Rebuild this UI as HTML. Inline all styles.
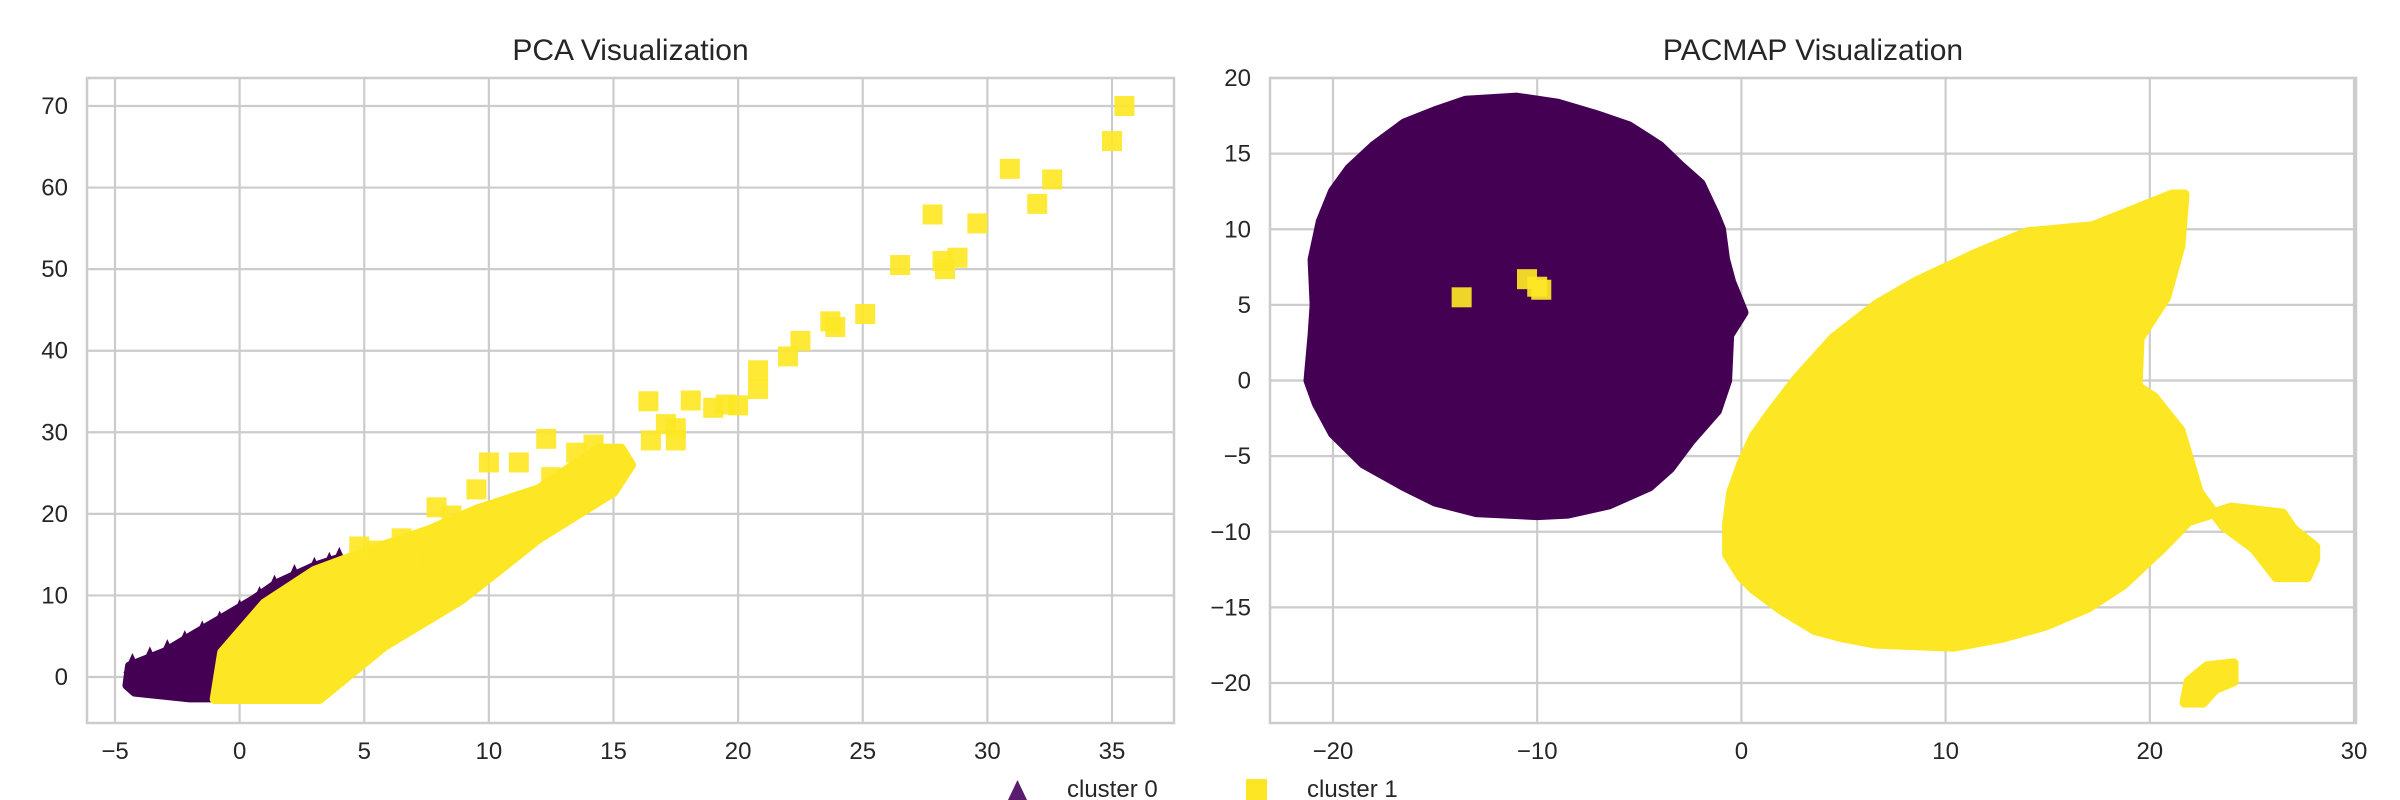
<!DOCTYPE html>
<html><head><meta charset="utf-8">
<style>
html,body{margin:0;padding:0;background:#fff;}
svg{display:block;font-family:"Liberation Sans",sans-serif;}
</style></head>
<body>
<svg id="fig" width="2400" height="800" viewBox="0 0 2400 800" xmlns="http://www.w3.org/2000/svg"></svg>
<script>
// ---------- data ----------
const pcaXTicks = [-5,0,5,10,15,20,25,30,35];
const pcaYTicks = [0,10,20,30,40,50,60,70];
const pacXTicks = [-20,-10,0,10,20,30];
const pacYTicks = [-20,-15,-10,-5,0,5,10,15,20];

// PCA cluster 0 dense region boundary (data coords)
const pcaC0Region = [[-4.5,-1],[-4.4,1.3],[-3,3],[-1.9,5],[-0.5,7.5],[0.6,9.5],[1.5,11.4],[3,13.5],[4,14.5],[4.5,13],[1,3],[0,-2.5],[-2,-2.5],[-4.2,-1.8]];
// PCA cluster 1 dense region boundary
const pcaC1Region = [[-1,-2.7],[3.2,-2.7],[5.8,3.8],[8.9,9.5],[12,17],[15,22.7],[15.7,26],[15.3,28],[14.4,28],[12,23],[9.5,20.5],[7.6,18],[5.2,15.5],[3,13],[1,9],[-0.7,3]];
// PCA cluster 1 outliers x,y
const pcaC1X = [35.5,35.0,30.9,32.6,32.0,27.8,29.6,28.8,28.2,28.3,26.5,25.1,23.7,23.9,22.5,22.0,20.8,20.8,16.4,18.1,19.0,19.5,20.0,17.1,17.5,17.5,16.5,12.3,10.0,11.2,13.5,14.2,15.0,15.1,7.9,8.5,9.5,6.5,5.5,12.5,4.8,7.5];
const pcaC1Y = [70.0,65.7,62.3,61.0,58.0,56.7,55.6,51.4,51.0,50.0,50.5,44.5,43.6,42.9,41.2,39.3,37.6,35.3,33.8,33.9,33.0,33.4,33.3,31.0,30.5,29.0,29.0,29.2,26.3,26.3,27.5,28.5,27.0,26.0,20.8,19.8,23.0,17.0,15.5,24.5,16.0,14.5];
// PCA cluster 0 edge triangles
const pcaC0X = [-4.3,-3.6,-2.9,-2.2,-1.5,-0.8,0.0,0.8,1.4,2.2,3.0,3.6,4.0];
const pcaC0Y = [1.6,2.4,3.3,4.4,5.6,6.8,8.2,9.8,11.2,12.5,13.4,14.0,14.6];

// PaCMAP cluster 0 region
const pacC0Region = [[-11,18.7],[-9,18.3],[-7,17.5],[-5.5,16.8],[-4,15.5],[-3,14.2],[-2,13],[-1.3,11],[-1,10],[-0.8,8],[-0.5,6.5],[0.1,4.5],[-0.6,3],[-0.7,0],[-1.2,-2],[-2.5,-4],[-3.5,-5.8],[-4.5,-7],[-6.5,-8.2],[-8.5,-8.8],[-10,-8.9],[-13,-8.7],[-15,-8],[-16.5,-7],[-18.5,-5.5],[-20,-3.5],[-20.8,-1.5],[-21.2,0],[-21,3],[-20.9,5],[-21,8],[-20.6,10.5],[-20,12.5],[-19.2,14],[-18,15.5],[-16.5,17],[-15,17.8],[-13.5,18.5]];
// PaCMAP cluster 1 main region
const pacC1Region = [[21.1,12.3],[17.2,10.2],[14,9.8],[11.5,8.4],[8.5,6.5],[6.6,5],[4.5,2.8],[2.7,0.1],[1.5,-2],[0.6,-3.7],[0,-5.5],[-0.5,-7.4],[-0.7,-9.5],[-0.7,-11.5],[0,-13],[0.6,-13.8],[2,-15.2],[3.6,-16.5],[5,-17],[6.6,-17.4],[10.4,-17.6],[12.8,-17],[14.9,-16.2],[17,-15],[18.7,-13.5],[20.6,-11.1],[21.9,-9.3],[24,-8.4],[26.5,-8.8],[27,-9.8],[28.1,-11],[28.1,-11.8],[27.7,-13],[26.2,-13],[25.1,-11.1],[23.6,-9.6],[22.4,-7.4],[21.5,-3.3],[20.2,-1.1],[19.4,-0.4],[19.5,2.8],[20.8,5.5],[21.5,8.9],[21.7,12.3]];
const pacC1Arc = [[21.7,-21.3],[21.9,-19.9],[22.8,-18.9],[24.1,-18.7],[24.1,-19.9],[23.2,-20.4],[22.6,-21.3]];
const pacC1X = [-13.7,-10.5,-10.0,-9.8];
const pacC1Y = [5.5,6.7,6.2,6.0];

// ---------- drawing ----------
const NS = "http://www.w3.org/2000/svg";
const svg = document.getElementById('fig');
const C0 = '#440154', C1 = '#fde725';
function mk(tag, attrs, parent){const e=document.createElementNS(NS,tag);for(const k in attrs)e.setAttribute(k,attrs[k]);(parent||svg).appendChild(e);return e;}
function lin(d0,d1,p0,p1){return v=>p0+(v-d0)*(p1-p0)/(d1-d0);}

function panel(cfg){
  const g = mk('g',{});
  
  
  const sx=cfg.sx, sy=cfg.sy;
  cfg.xt.forEach(t=>{
    const l=mk('line',{x1:sx(t),x2:sx(t),y1:cfg.top,y2:cfg.bot,stroke:'#cccccc','stroke-width':2.2},g);
    
    
    const tx=mk('text',{x:sx(t),y:cfg.bot+36,'text-anchor':'middle','font-size':24,fill:'#262626'},g);
    tx.textContent=(t<0?'\u2212'+(-t):t);
    
    
  });
  cfg.yt.forEach(t=>{
    const l=mk('line',{x1:cfg.left,x2:cfg.right,y1:sy(t),y2:sy(t),stroke:'#cccccc','stroke-width':2.2},g);
    
    
    const tx=mk('text',{x:cfg.left-19,y:sy(t)+8,'text-anchor':'end','font-size':24,fill:'#262626'},g);
    tx.textContent=(t<0?'\u2212'+(-t):t);
    
    
  });
  const title=mk('text',{x:(cfg.left+cfg.right)/2,y:cfg.top-18,'text-anchor':'middle','font-size':30,fill:'#262626'},g);
  title.textContent=cfg.title;
  
  
  const clip=mk('clipPath',{id:cfg.name+'-clip'},g);
  mk('rect',{x:cfg.left,y:cfg.top,width:cfg.right-cfg.left,height:cfg.bot-cfg.top},clip);
  const marks=mk('g',{'clip-path':'url(#'+cfg.name+'-clip)'},g);
  
  
  cfg.draw(marks,sx,sy);
  const frame=mk('rect',{x:cfg.left,y:cfg.top,width:cfg.right-cfg.left,height:cfg.bot-cfg.top,fill:'none',stroke:'#cccccc','stroke-width':2.5},g);
  
  
}
function region(parent,pts,sx,sy,color,name){
  const p=mk('polygon',{points:pts.map(q=>sx(q[0])+','+sy(q[1])).join(' '),fill:color,stroke:color,'stroke-width':10,'stroke-linejoin':'round'},parent);
  
  
}
function squares(parent,xs,ys,sx,sy,name){
  xs.forEach((x,i)=>{
    const r=mk('rect',{x:sx(x)-10,y:sy(ys[i])-10,width:20,height:20,fill:C1,'fill-opacity':0.92},parent);
    
    
  });
}
function tris(parent,xs,ys,sx,sy,name){
  xs.forEach((x,i)=>{
    const cx=sx(x),cy=sy(ys[i]);
    const t=mk('polygon',{points:`${cx-9},${cy+9} ${cx+9},${cy+9} ${cx},${cy-11}`,fill:C0},parent);
    
    
  });
}

panel({name:'pca-panel',title:'PCA Visualization',left:87,right:1174,top:78,bot:723,
  sx:lin(-5,35,115,1112), sy:lin(0,70,677,106), xt:pcaXTicks, yt:pcaYTicks,
  draw:(g,sx,sy)=>{
    region(g,pcaC0Region,sx,sy,C0,'cluster0-points');
    tris(g,pcaC0X,pcaC0Y,sx,sy,'cluster0-point');
    region(g,pcaC1Region,sx,sy,C1,'cluster1-points');
    squares(g,pcaC1X,pcaC1Y,sx,sy,'cluster1-point');
  }});

panel({name:'pacmap-panel',title:'PACMAP Visualization',left:1270,right:2356,top:78,bot:723,
  sx:lin(-20,30,1333,2354), sy:lin(-20,20,683,78), xt:pacXTicks, yt:pacYTicks,
  draw:(g,sx,sy)=>{
    region(g,pacC0Region,sx,sy,C0,'cluster0-points');
    region(g,pacC1Region,sx,sy,C1,'cluster1-points');
    region(g,pacC1Arc,sx,sy,C1,'cluster1-small-group');
    squares(g,pacC1X,pacC1Y,sx,sy,'cluster1-point');
  }});

// legend
const lg=mk('g',{});


const lt=mk('polygon',{points:'1008,800 1027,800 1017.5,780',fill:'#5a1c6e'},lg);


const l0=mk('text',{x:1067,y:797,'font-size':24,fill:'#262626'},lg);
l0.textContent='cluster 0';


const ls=mk('rect',{x:1246,y:779,width:21,height:21,fill:C1},lg);


const l1=mk('text',{x:1307,y:797,'font-size':24,fill:'#262626'},lg);
l1.textContent='cluster 1';


</script>
</body></html>
